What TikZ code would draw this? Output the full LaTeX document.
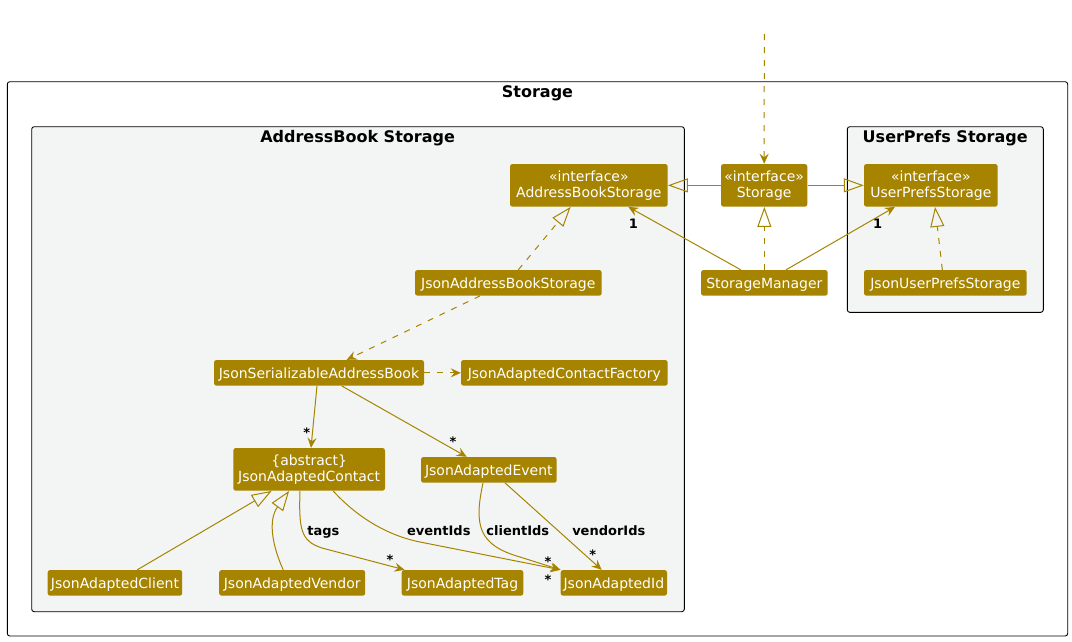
\documentclass[tikz,border=0pt]{standalone}
\usepackage{fontspec}
\setmainfont{DejaVu Sans}
\usetikzlibrary{arrows.meta}
\definecolor{gold}{RGB}{166,132,0}
\definecolor{pkgfill}{RGB}{243,245,244}
\begin{document}
\begin{tikzpicture}[x=1pt,y=-1pt,
  cls/.style={draw=none, fill=gold, rounded corners=2.5pt, text=white,
    font=\fontsize{14}{16}\selectfont, inner sep=0pt, minimum height=25.7pt,
    text height=13pt, text depth=2pt},
  clstwo/.style={draw=none, fill=gold, rounded corners=2.5pt, text=white,
    font=\fontsize{14}{16}\selectfont, inner sep=0pt, minimum height=42.7pt, align=center},
  pkg/.style={draw=black, line width=0.9pt, rounded corners=2.5pt},
  ptitle/.style={font=\bfseries\fontsize{16}{19}\selectfont, anchor=base, inner sep=0pt},
  lbl/.style={font=\bfseries\fontsize{13}{15}\selectfont, anchor=base, inner sep=0pt},
  conn/.style={draw=gold, line width=1pt},
  dep/.style={conn, dash pattern=on 6pt off 7pt, -{Stealth[length=10pt,width=9pt,inset=3.5pt]}},
  assoc/.style={conn, -{Stealth[length=10pt,width=9pt,inset=3.5pt]}},
  real/.style={conn, dash pattern=on 6pt off 7pt, -{Triangle[open,length=20pt,width=14pt]}},
  ext/.style={conn, -{Triangle[open,length=20pt,width=14pt]}}
]
\useasboundingbox (0,0) rectangle (1072,641);
\fill[white] (0,0) rectangle (1072,641);

% packages
\draw[pkg, fill=white] (7.3,81.7) rectangle (1067.7,636);
\draw[pkg, fill=pkgfill] (31.7,126.7) rectangle (684.3,611.7);
\draw[pkg, fill=pkgfill] (847.3,126.7) rectangle (1043.3,312.3);
\node[ptitle] (tst) at (537.5,97.7) {Storage};
\node[ptitle] (tab) at (357.6,142.7) {AddressBook Storage};
\node[ptitle] (tup) at (945.2,142.7) {UserPrefs Storage};

% classes
\node[clstwo, minimum width=157.7pt] (abs) at (588.85,185.35) {«interface»\\AddressBookStorage};
\node[clstwo, minimum width=86.3pt] (st) at (764.15,185.35) {«interface»\\Storage};
\node[clstwo, minimum width=133.7pt] (ups) at (930.85,185.35) {«interface»\\UserPrefsStorage};
\node[cls, minimum width=186.7pt] (jabs) at (508.35,282.85) {JsonAddressBookStorage};
\node[cls, minimum width=126.7pt] (sm) at (764.35,282.85) {StorageManager};
\node[cls, minimum width=162.7pt] (jups) at (945.35,282.85) {JsonUserPrefsStorage};
\node[cls, minimum width=210pt] (jsab) at (319,372.85) {JsonSerializableAddressBook};
\node[cls, minimum width=206.7pt] (jacf) at (564.35,372.85) {JsonAdaptedContactFactory};
\node[clstwo, minimum width=151.7pt] (con) at (309.15,469.35) {\{abstract\}\\JsonAdaptedContact};
\node[cls, minimum width=135.7pt] (ev) at (488.85,469.85) {JsonAdaptedEvent};
\node[cls, minimum width=134.5pt] (cl) at (114.95,582.85) {JsonAdaptedClient};
\node[cls, minimum width=146pt] (ven) at (292.2,582.85) {JsonAdaptedVendor};
\node[cls, minimum width=121.6pt] (tag) at (462.5,582.85) {JsonAdaptedTag};
\node[cls, minimum width=106.3pt] (id) at (613.85,582.85) {JsonAdaptedId};

% connectors
\coordinate (top) at (764.3,34);
\draw[dep] (top) -- (st.north);
\draw[ext] (st.west) -- (abs.east);
\draw[ext] (st.east) -- (ups.west);
\draw[real] (sm.north) -- (sm.north |- st.south);
\draw[assoc] ([xshift=-23.6pt]sm.north) -- ([xshift=39.5pt]abs.south);
\draw[assoc] ([xshift=21.7pt]sm.north) -- ([xshift=-35.9pt]ups.south);
\draw[real] ([xshift=-3pt]jups.north) -- ([xshift=4.2pt]ups.south);
\draw[real] ([xshift=10pt]jabs.north) -- ([xshift=-18.2pt]abs.south);
\draw[dep] ([xshift=-28.3pt]jabs.south) -- ([xshift=27.7pt]jsab.north);
\draw[dep] (jsab.east) -- (jacf.west);
\draw[assoc] ([xshift=-2pt]jsab.south) -- ([xshift=1.85pt]con.north);
\draw[assoc] ([xshift=22.7pt]jsab.south) -- ([xshift=-22.2pt]ev.north);
\draw[ext] ([xshift=22.3pt]cl.north) -- ([xshift=-37.5pt]con.south);
\draw[ext] ([xshift=-9pt]ven.north) .. controls (272,545) and (268,520) .. ([xshift=-20pt]con.south);
\draw[assoc] ([xshift=-9.2pt]con.south) .. controls (299,528) and (300,541) .. (322,548) -- ([xshift=3pt]tag.north west);
\draw[assoc] ([xshift=24pt]con.south) .. controls (355,515) and (385,535) .. (420,542) -- (id.north west);
\draw[assoc] ([xshift=-5.85pt]ev.south) .. controls (474,525) and (478,545) .. (520,557) -- (id.north west);
\draw[assoc] ([xshift=16.2pt]ev.south) -- ([xshift=-12.2pt]id.north);

% labels
\node[lbl] (one1) at (633.3,228.3) {1};
\node[lbl] (one2) at (877.7,228.3) {1};
\node[lbl] (s1) at (306.7,437.7) {*};
\node[lbl] (s2) at (453,446.7) {*};
\node[lbl] (s3) at (390,564.4) {*};
\node[lbl] (s4) at (548,566.7) {*};
\node[lbl] (s5) at (548,584.7) {*};
\node[lbl] (s6) at (592.7,559.4) {*};
\node[lbl] (ltags) at (323.3,535) {tags};
\node[lbl] (levent) at (438.8,535) {eventIds};
\node[lbl] (lclient) at (517.8,535) {clientIds};
\node[lbl] (lvendor) at (608.8,535) {vendorIds};
\end{tikzpicture}
\end{document}
